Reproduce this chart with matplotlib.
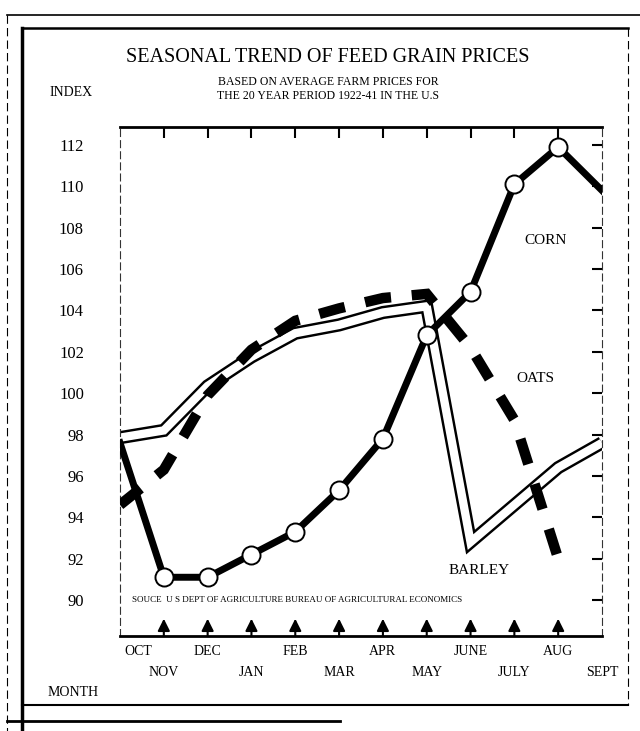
import numpy as np
import matplotlib
matplotlib.use("Agg")
import matplotlib.pyplot as plt
from matplotlib.lines import Line2D

plt.rcParams["font.family"] = ["Liberation Serif", "DejaVu Serif"]
plt.rcParams["lines.scale_dashes"] = False

# index values, Oct .. Sept
months = ["OCT", "NOV", "DEC", "JAN", "FEB", "MAR", "APR", "MAY",
          "JUNE", "JULY", "AUG", "SEPT"]
corn = [97.6, 91.1, 91.1, 92.2, 93.3, 95.3, 97.8, 102.8, 104.9, 110.1, 111.9, 109.8]
oats = [94.6, 96.3, 99.9, 102.1, 103.5, 104.1, 104.6, 104.8, 102.2, 98.7, 92.0, np.nan]
barley = [97.85, 98.2, 100.35, 101.75, 102.9, 103.3, 103.9, 104.2, 92.8, 94.6, 96.4, 97.6]
index_ticks = list(range(90, 113, 2))

W, H = 640, 731
fig = plt.figure(figsize=(W / 100, H / 100), dpi=100)
ax = fig.add_axes([120 / W, 1 - 636 / H, 482 / W, 509 / H])

x = np.arange(len(months))

# barley: hollow double line
ax.plot(x, barley, color="black", lw=9.5, solid_joinstyle="miter",
        solid_capstyle="butt", zorder=2)
ax.plot(x, barley, color="white", lw=6, solid_joinstyle="miter",
        solid_capstyle="butt", zorder=2.1)
# oats: heavy dashes
ax.plot(x, oats, color="black", lw=7.5, linestyle=(0, (19, 15)),
        dash_capstyle="butt", dash_joinstyle="miter", zorder=3)
# corn: heavy line with open circles Nov..Aug
ax.plot(x, corn, color="black", lw=5, zorder=4)
ax.plot(x[1:11], corn[1:11], "o", ms=13, mfc="white", mec="black", mew=1.4, zorder=5)

ax.set_xlim(0, 11)
ax.set_ylim(88.26, 112.87)

for side in ["top", "bottom"]:
    ax.spines[side].set_linewidth(2)
for side in ["left", "right"]:
    ax.spines[side].set_linewidth(0.8)
    ax.spines[side].set_linestyle((0, (5, 3)))
    ax.spines[side].set_color("#333333")

ax.set_xticks(x[1:11])
ax.tick_params(axis="x", bottom=False, top=True, direction="in", length=8,
               width=1.5, labelbottom=False, labeltop=False)
ax.set_yticks(index_ticks)
ax.set_yticklabels([str(v) for v in index_ticks])
ax.tick_params(axis="y", left=False, right=True, direction="in", length=7,
               width=1.5, labelsize=12, pad=26)

# little arrows standing on the month axis
xt = ax.get_xaxis_transform()
for m in x[1:11]:
    ax.annotate("", xy=(m, 0.034), xytext=(m, 0.0), xycoords=xt, textcoords=xt,
                arrowprops=dict(arrowstyle="-|>,head_length=0.6,head_width=0.3",
                                color="black", lw=1.5, mutation_scale=12,
                                shrinkA=0, shrinkB=0))

# month names in two staggered rows
for i, name in enumerate(months):
    yy = -0.031 if i % 2 == 0 else -0.071
    if i == 0:
        ax.text(i + 0.11, yy, name, transform=xt, ha="left", va="center", fontsize=10)
    else:
        ax.text(i, yy, name, transform=xt, ha="center", va="center", fontsize=10)

ax.text(9.72, 107.4, "CORN", ha="center", va="center", fontsize=11)
ax.text(9.47, 100.7, "OATS", ha="center", va="center", fontsize=11)
ax.text(8.2, 91.45, "BARLEY", ha="center", va="center", fontsize=11)
ax.text(0.025, 0.071, "SOUCE  U S DEPT OF AGRICULTURE BUREAU OF AGRICULTURAL ECONOMICS",
        transform=ax.transAxes, ha="left", va="center", fontsize=6.5)

fig.text(328 / W, 1 - 58 / H, "SEASONAL TREND OF FEED GRAIN PRICES",
         ha="center", va="center", fontsize=14.5)
fig.text(328 / W, 1 - 82 / H, "BASED ON AVERAGE FARM PRICES FOR",
         ha="center", va="center", fontsize=8.5)
fig.text(328 / W, 1 - 96 / H, "THE 20 YEAR PERIOD 1922-41 IN THE U.S",
         ha="center", va="center", fontsize=8.5)
fig.text(50 / W, 1 - 93 / H, "INDEX", ha="left", va="center", fontsize=10)
fig.text(48 / W, 1 - 692 / H, "MONTH", ha="left", va="center", fontsize=10)


# page frame (scanned sheet borders)
def frame_line(x0, y0, x1, y1, **kw):
    fig.add_artist(Line2D([x0 / W, x1 / W], [1 - y0 / H, 1 - y1 / H],
                          transform=fig.transFigure, color="black", **kw))


frame_line(7, 15, 640, 15, lw=1.2)
frame_line(7, 15, 7, 731, lw=0.8, linestyle=(0, (6, 3)))
frame_line(22, 28, 628, 28, lw=1.8)
frame_line(22, 28, 22, 731, lw=2.5)
frame_line(22, 705, 628, 705, lw=1.5)
frame_line(628, 28, 628, 705, lw=0.8, linestyle=(0, (6, 3)))
frame_line(7, 721, 340, 721, lw=2)

fig.savefig("out.png", dpi=100)
